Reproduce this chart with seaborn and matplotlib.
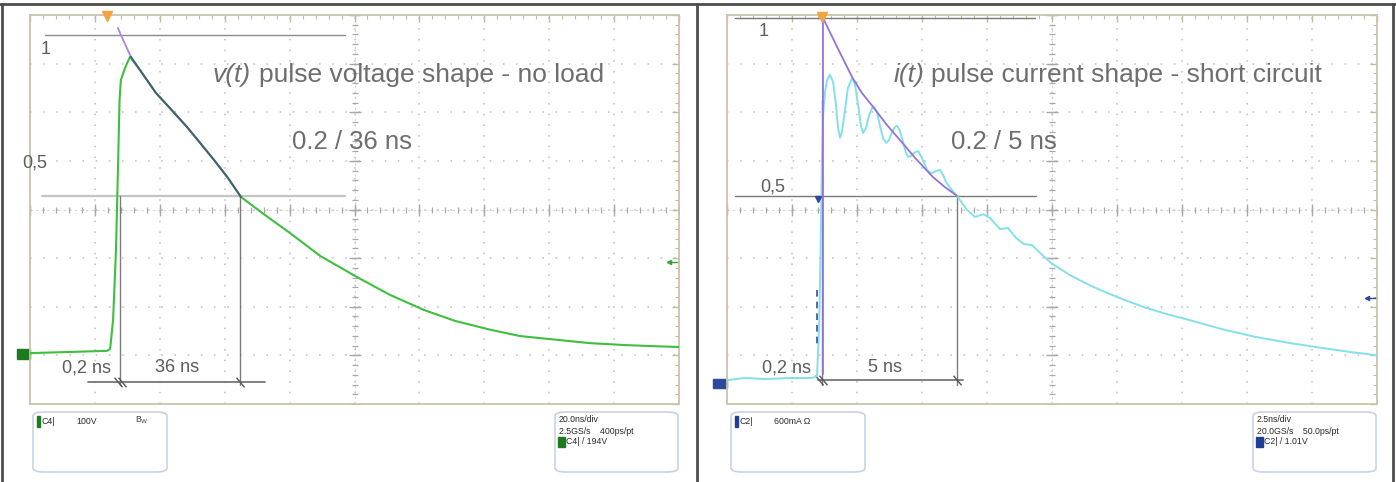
import numpy as np
import matplotlib.pyplot as plt
import seaborn as sns
from matplotlib.lines import Line2D
from matplotlib.patches import FancyBboxPatch, Rectangle

# ── Datos leídos del osciloscopio ─────────────────────────
# v(t) sin carga, 20 ns/div, amplitud normalizada
v_time = [0.0, 23.7, 24.7, 25.6, 26.5, 27.1, 27.6, 28.0, 29.3, 30.8, 33.9, 38.8, 43.1,
          48.4, 52.4, 56.7, 61.0, 65.0, 72.4, 80.1, 89.4, 100.8, 110.9, 121.4, 131.0,
          142.1, 151.0, 162.7, 172.6, 183.4, 191.1, 200.0]
v_amp = [0.012, 0.019, 0.025, 0.115, 0.332, 0.581, 0.798, 0.860, 0.898, 0.932, 0.891, 0.820,
         0.773, 0.714, 0.665, 0.612, 0.556, 0.497, 0.441, 0.385, 0.314, 0.248, 0.193, 0.146,
         0.112, 0.084, 0.065, 0.053, 0.043, 0.037, 0.034, 0.031]
v_fit_time = [27.1, 28.0, 31.1, 38.8, 43.1, 48.4, 52.4, 56.7, 61.0, 65.0]
v_fit_amp = [1.022, 1.000, 0.932, 0.820, 0.773, 0.714, 0.665, 0.612, 0.556, 0.497]

# i(t) cortocircuito, 2.5 ns/div
i_time = [0.00, 0.69, 1.46, 2.42, 3.27, 3.46, 3.54, 3.60, 3.65, 3.70, 3.77, 3.85, 3.96,
          4.08, 4.19, 4.27, 4.35, 4.42, 4.54, 4.65, 4.81, 4.92, 5.04, 5.15, 5.23, 5.35,
          5.46, 5.58, 5.65, 5.77, 5.88, 6.00, 6.12, 6.23, 6.35, 6.46, 6.54, 6.65, 6.77,
          6.88, 6.96, 7.08, 7.19, 7.35, 7.46, 7.58, 7.69, 7.81, 7.92, 8.04, 8.19, 8.31,
          8.42, 8.50, 8.65, 8.85, 9.23, 9.54, 9.85, 10.12, 10.50, 10.81, 11.12, 11.42,
          11.73, 12.04, 12.46, 13.19, 13.77, 14.35, 15.19, 16.04, 16.88, 17.77, 19.04,
          20.35, 21.65, 22.92, 23.96, 25.00]
i_amp = [-0.017, -0.011, -0.014, -0.011, -0.011, -0.006, 0.124, 0.348, 0.601, 0.733, 0.792,
         0.826, 0.840, 0.820, 0.756, 0.691, 0.663, 0.680, 0.742, 0.803, 0.831, 0.815, 0.756,
         0.697, 0.677, 0.691, 0.725, 0.747, 0.750, 0.736, 0.697, 0.663, 0.649, 0.657, 0.680,
         0.694, 0.697, 0.683, 0.652, 0.621, 0.610, 0.612, 0.621, 0.626, 0.612, 0.593, 0.573,
         0.565, 0.565, 0.570, 0.573, 0.559, 0.539, 0.531, 0.517, 0.500, 0.461, 0.441, 0.449,
         0.438, 0.407, 0.410, 0.382, 0.365, 0.362, 0.340, 0.312, 0.278, 0.256, 0.236, 0.211,
         0.188, 0.169, 0.152, 0.126, 0.104, 0.087, 0.073, 0.062, 0.053]
i_fit_time = [3.69, 3.69, 4.23, 4.81, 5.19, 5.62, 6.12, 6.65, 7.27, 7.92, 8.38, 8.85]
i_fit_amp = [0.0, 1.000, 0.919, 0.834, 0.789, 0.750, 0.702, 0.657, 0.604, 0.553, 0.525, 0.500]

v_labels = ["1", "0,5", "0,2 ns", "36 ns"]
i_labels = ["1", "0,5", "0,2 ns", "5 ns"]
v_info = ["C4|", "100V", "B$_\\mathrm{W}$", "20.0ns/div", "2.5GS/s    400ps/pt", "C4| / 194V"]
i_info = ["C2|", "600mA Ω", "", "2.5ns/div", "20.0GS/s    50.0ps/pt", "C2| / 1.01V"]

W, H = 1396, 482
GRAY = "#5c5c5c"
TXT = "#6e6e6e"


def fx(px):
    return px / W


def fy(py):
    return 1 - py / H


def scope_grid(ax, xlim, ylim):
    ax.set_xlim(xlim)
    ax.set_ylim(ylim)
    xs = np.linspace(*xlim, 11)
    ys = np.linspace(*ylim, 9)
    xm = np.linspace(*xlim, 51)
    ym = np.linspace(*ylim, 41)
    ax.set_xticks(xs)
    ax.set_yticks(ys)
    ax.set_xticks(xm, minor=True)
    ax.set_yticks(ym, minor=True)
    ax.tick_params(which="both", direction="in", labelbottom=False, labelleft=False,
                   top=True, right=True, color="#bfbaa0")
    ax.tick_params(which="major", length=5, width=1)
    ax.tick_params(which="minor", length=3, width=0.8)
    for sp in ax.spines.values():
        sp.set_color("#c8c4ac")
        sp.set_linewidth(1.3)
    # rejilla punteada: un punto por subdivisión
    for x in xs[1:-1]:
        ax.axvline(x, color="#bdbdbd", lw=1.1, ls=(0, (1, 6.0)), zorder=0.4)
    for y in ys[1:-1]:
        ax.axhline(y, color="#bdbdbd", lw=1.1, ls=(0, (1, 7.6)), zorder=0.4)
    xc, yc = xs[5], ys[4]
    ax.axhline(yc, color="#d4d4d4", lw=0.8, ls=(0, (2, 3)), zorder=0.5)
    ax.axvline(xc, color="#d4d4d4", lw=0.8, ls=(0, (2, 3)), zorder=0.5)
    ax.plot(xm, [yc] * len(xm), ls="none", marker="|", ms=4, mew=0.9, color="#a8a8a8", zorder=0.6)
    ax.plot(xs, [yc] * len(xs), ls="none", marker="|", ms=8, mew=1, color="#a8a8a8", zorder=0.6)
    ax.plot([xc] * len(ym), ym, ls="none", marker="_", ms=4, mew=0.9, color="#a8a8a8", zorder=0.6)
    ax.plot([xc] * len(ys), ys, ls="none", marker="_", ms=8, mew=1, color="#a8a8a8", zorder=0.6)


def info_boxes(fig, x0, info, chan_color):
    for bx, bw in [(x0 + 33, 134), (x0 + 555, 123)]:
        fig.add_artist(FancyBboxPatch((fx(bx), fy(472)), bw / W, 60 / H,
                                      boxstyle="round,pad=0,rounding_size=0.008",
                                      transform=fig.transFigure, fc="white",
                                      ec="#c9d2e3", lw=1.2))
    fig.add_artist(Rectangle((fx(x0 + 37), fy(427)), 3 / W, 11 / H,
                             transform=fig.transFigure, color=chan_color))
    fig.text(fx(x0 + 41), fy(421), info[0], fontsize=6.3, color="#2a2a2a", va="center")
    fig.text(fx(x0 + 76), fy(421), info[1], fontsize=6.3, color="#2a2a2a", va="center")
    fig.text(fx(x0 + 135), fy(420), info[2], fontsize=6.3, color="#444", va="center")
    fig.text(fx(x0 + 559), fy(420), info[3], fontsize=6.3, color="#2a2a2a", va="center")
    fig.text(fx(x0 + 559), fy(431), info[4], fontsize=6.3, color="#2a2a2a", va="center")
    fig.add_artist(Rectangle((fx(x0 + 558), fy(447)), 7 / W, 10 / H,
                             transform=fig.transFigure, color=chan_color))
    fig.text(fx(x0 + 566), fy(442), info[5], fontsize=6.3, color="#2a2a2a", va="center")


sns.set_theme(style="white")
plt.rcParams["font.family"] = ["Liberation Sans", "DejaVu Sans"]

fig = plt.figure(figsize=(W / 100, H / 100), dpi=100)
fig.patch.set_facecolor("white")

# ── Panel izquierdo: tensión ──────────────────────────────
ax1 = fig.add_axes([fx(30), fy(404), 649 / W, 389 / H])
scope_grid(ax1, (0, 200), (-0.146, 1.062))

ax1.plot([4.6, 97.0], [1.0, 1.0], color="#8c8c8c", lw=1)
ax1.plot([3.7, 97.0], [0.5, 0.5], color="#c4c4c4", lw=1.6)
ax1.plot([27.7, 27.7], [0.5, -0.087], color="#7c7c7c", lw=1)
ax1.plot([64.7, 64.7], [0.5, -0.087], color="#7c7c7c", lw=1)
ax1.plot([17.9, 72.4], [-0.078, -0.078], color="#6c6c6c", lw=1.2)
ax1.plot([27.1, 28.3, 64.7], [-0.078] * 3, ls="none", marker=(2, 0, 40), ms=9, mew=1,
         color="#555")

sns.lineplot(x=v_time, y=v_amp, ax=ax1, color="#3fbf3f", lw=1.5, sort=False,
             estimator=None, legend=False, zorder=3)
sns.lineplot(x=v_fit_time[:3], y=v_fit_amp[:3], ax=ax1, color="#a887e6", lw=1.3,
             sort=False, estimator=None, legend=False, zorder=4)
sns.lineplot(x=v_fit_time[2:], y=v_fit_amp[2:], ax=ax1, color="#4a5a7e", lw=1.4,
             sort=False, estimator=None, legend=False, zorder=4)

ax1.plot([23.7], [1.06], marker="v", ms=7, color="#f2a441", clip_on=False, zorder=5)
ax1.add_patch(Rectangle((-4.0, -0.005), 4.0, 0.03, color="#1e7a1e", clip_on=False))
ax1.plot([197.5, 200], [0.295, 0.295], color="#3fa03f", lw=1, clip_on=False)
ax1.plot([197.0], [0.295], marker="<", ms=3, color="#3fa03f", clip_on=False)

fig.text(fx(46), fy(49), v_labels[0], fontsize=13, color=GRAY, ha="center", va="center")
fig.text(fx(35), fy(163), v_labels[1], fontsize=13, color=GRAY, ha="center", va="center")
fig.text(fx(86), fy(368), v_labels[2], fontsize=13, color=GRAY, ha="center", va="center")
fig.text(fx(177), fy(367), v_labels[3], fontsize=13, color=GRAY, ha="center", va="center")

fig.text(fx(251), fy(75), "v(t)", fontsize=19, style="italic", color=TXT,
         ha="right", va="center")
fig.text(fx(259), fy(75), "pulse voltage shape - no load", fontsize=19, color=TXT,
         ha="left", va="center")
fig.text(fx(352), fy(142), "0.2 / 36 ns", fontsize=18.5, color=TXT, ha="center", va="center")

info_boxes(fig, 0, v_info, "#1e7a1e")

# ── Panel derecho: corriente ──────────────────────────────
ax2 = fig.add_axes([fx(727), fy(404), 650 / W, 389 / H])
scope_grid(ax2, (0, 25), (-0.084, 1.008))

ax2.plot([0.31, 11.85], [1.0, 1.0], color="#7a7a7a", lw=1)
ax2.plot([0.31, 11.88], [0.5, 0.5], color="#7a7a7a", lw=1)
ax2.plot([3.65, 3.65], [0.77, -0.031], color="#7c7c7c", lw=1)
ax2.plot([8.85, 8.85], [0.5, -0.031], color="#7c7c7c", lw=1)
ax2.plot([3.5, 9.08], [-0.017, -0.017], color="#6c6c6c", lw=1.2)
ax2.plot([3.54, 3.69, 8.85], [-0.017] * 3, ls="none", marker=(2, 0, 40), ms=9, mew=1,
         color="#555")
ax2.plot([3.46, 3.46], [0.236, 0.081], color="#2f4fa0", lw=1.2, ls=(0, (4, 3)), zorder=5)

sns.lineplot(x=i_time, y=i_amp, ax=ax2, color="#84e0e8", lw=1.4, sort=False,
             estimator=None, legend=False, zorder=3)
sns.lineplot(x=i_fit_time, y=i_fit_amp, ax=ax2, color="#9273d8", lw=1.3, sort=False,
             estimator=None, legend=False, zorder=4)

ax2.plot([3.5], [0.492], marker="v", ms=5, color="#2a4a9a", zorder=5)
ax2.plot([3.65], [1.003], marker="v", ms=7, color="#f2a441", clip_on=False, zorder=5)
ax2.add_patch(Rectangle((-0.54, -0.04), 0.54, 0.027, color="#2a4aa0", clip_on=False))
ax2.plot([24.65, 25], [0.213, 0.213], color="#2a4aa0", lw=1, clip_on=False)
ax2.plot([24.6], [0.213], marker="<", ms=3, color="#2a4aa0", clip_on=False)

fig.text(fx(764), fy(31), i_labels[0], fontsize=13, color=GRAY, ha="center", va="center")
fig.text(fx(773), fy(187), i_labels[1], fontsize=13, color=GRAY, ha="center", va="center")
fig.text(fx(786), fy(368), i_labels[2], fontsize=13, color=GRAY, ha="center", va="center")
fig.text(fx(885), fy(368), i_labels[3], fontsize=13, color=GRAY, ha="center", va="center")

fig.text(fx(924), fy(75), "i(t)", fontsize=19, style="italic", color=TXT,
         ha="right", va="center")
fig.text(fx(931), fy(75), "pulse current shape - short circuit", fontsize=19, color=TXT,
         ha="left", va="center")
fig.text(fx(1004), fy(142), "0.2 / 5 ns", fontsize=18.5, color=TXT, ha="center", va="center")

info_boxes(fig, 698, i_info, "#1f3f95")

# ── Marco exterior ────────────────────────────────────────
for xs_, ys_ in [([0, W], [3.8, 3.8]), ([1.6, 1.6], [3.8, H]),
                 ([697, 697], [3.8, H]), ([1393, 1393], [3.8, H])]:
    fig.add_artist(Line2D([fx(v) for v in xs_], [fy(v) for v in ys_],
                          transform=fig.transFigure, color="#4d4d4d", lw=2))

fig.savefig("out.png", dpi=100, facecolor="white")
